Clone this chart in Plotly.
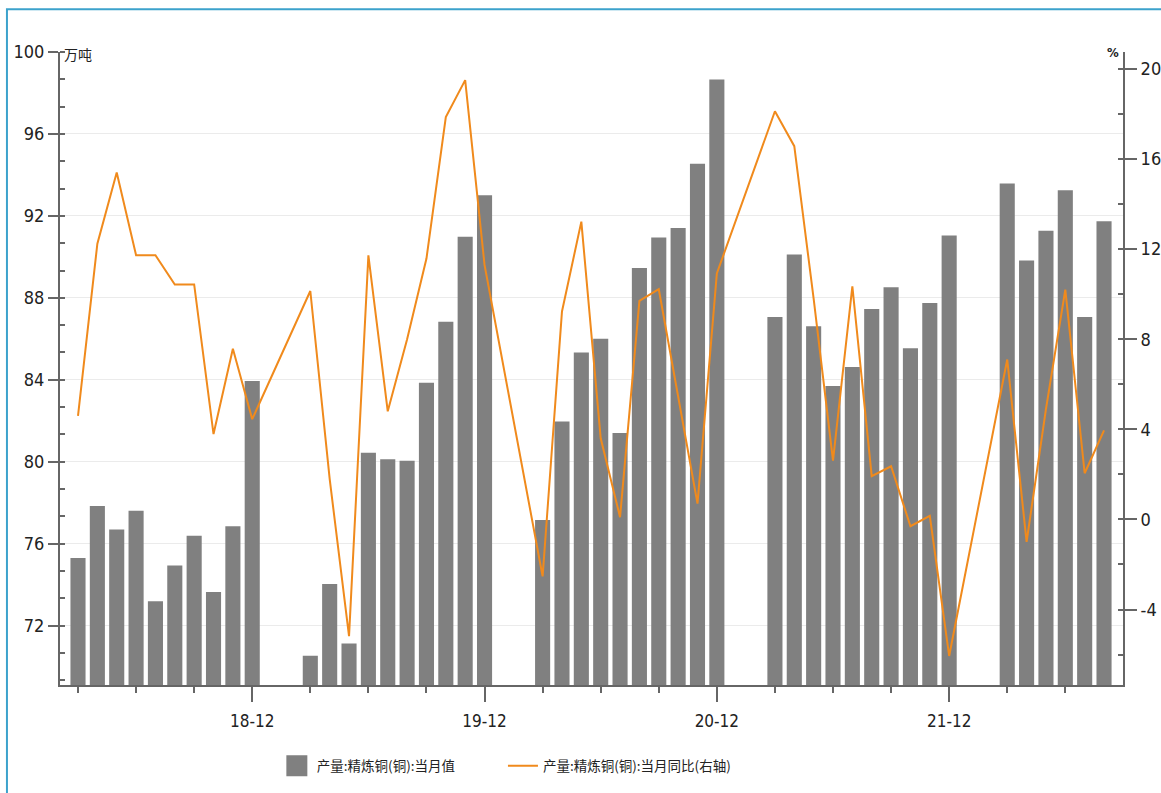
import plotly.graph_objects as go

# Monthly axis: Mar 2018 .. Aug 2022 (Jan/Feb are reported combined, so they stay empty)
months = [f"{y}-{m:02d}" for y in range(2018, 2023) for m in range(1, 13)]
months = months[months.index("2018-03"):months.index("2022-08") + 1]

# 产量:精炼铜(铜):当月值, 万吨
output_2018 = [75.30, 77.84, 76.69, 77.60, 73.19, 74.93, 76.39, 73.64, 76.85, 83.94]
output_2019 = [None, None, 70.53, 74.03, 71.12, 80.44, 80.12, 80.05, 83.86, 86.83, 90.98, 93.01]
output_2020 = [None, None, 77.16, 81.96, 85.33, 86.00, 81.40, 89.46, 90.94, 91.41, 94.55, 98.66]
output_2021 = [None, None, 87.06, 90.12, 86.61, 83.70, 84.62, 87.46, 88.52, 85.54, 87.75, 91.04]
output_2022 = [None, None, 93.58, 89.82, 91.28, 93.25, 87.06, 91.74]

# 产量:精炼铜(铜):当月同比, %
yoy_2018 = [4.60, 12.24, 15.40, 11.73, 11.73, 10.43, 10.43, 3.79, 7.58, 4.45]
yoy_2019 = [None, None, 10.14, 1.80, -5.18, 11.72, 4.80, 8.00, 11.58, 17.86, 19.50, 11.30]
yoy_2020 = [None, None, -2.53, 9.23, 13.22, 3.60, 0.10, 9.70, 10.22, 5.50, 0.70, 10.92]
yoy_2021 = [None, None, 18.12, 16.57, 9.80, 2.61, 10.35, 1.92, 2.36, -0.30, 0.16, -6.06]
yoy_2022 = [None, None, 7.10, -1.00, 4.90, 10.20, 2.05, 3.95]

output = output_2018 + output_2019 + output_2020 + output_2021 + output_2022
yoy = yoy_2018 + yoy_2019 + yoy_2020 + yoy_2021 + yoy_2022

tick_months = ["2018-12", "2019-12", "2020-12", "2021-12"]
tick_labels = ["18-12", "19-12", "20-12", "21-12"]
left_ticks = [72, 76, 80, 84, 88, 92, 96, 100]
right_ticks = [-4, 0, 4, 8, 12, 16, 20]

x = list(range(len(months)))
tick_idx = [months.index(m) for m in tick_months]

BAR_NAME = "产量:精炼铜(铜):当月值"
LINE_NAME = "产量:精炼铜(铜):当月同比(右轴)"
NARROW = "DejaVu Sans Condensed, Liberation Sans Narrow, sans-serif"
CJK = "Noto Sans CJK SC, sans-serif"
AXIS_COLOR = "#666666"
TEXT_COLOR = "#222222"
BAR_COLOR = "#808080"
LINE_COLOR = "#F08A1C"

fig = go.Figure()
fig.add_trace(go.Bar(
    x=x, y=output, name=BAR_NAME,
    marker=dict(color=BAR_COLOR, line=dict(width=0)),
    yaxis="y", legendgroup="bar", showlegend=False,
    customdata=months,
    hovertemplate="%{customdata}: %{y}<extra></extra>",
))
# larger square swatch for the bar series in the legend
fig.add_trace(go.Scatter(
    x=[None], y=[None], name=BAR_NAME, mode="markers",
    marker=dict(symbol="square", size=30, color=BAR_COLOR,
                line=dict(color=BAR_COLOR, width=5)),
    legendgroup="bar", legend="legend", hoverinfo="skip",
))
fig.add_trace(go.Scatter(
    x=x, y=yoy, name=LINE_NAME, mode="lines",
    line=dict(color=LINE_COLOR, width=2),
    connectgaps=True,
    yaxis="y2", legend="legend2",
    customdata=months,
    hovertemplate="%{customdata}: %{y}%<extra></extra>",
))

legend_common = dict(
    orientation="h", yanchor="middle", y=-0.128, xanchor="left",
    font=dict(family=CJK, size=13.5, color=TEXT_COLOR),
    bgcolor="rgba(0,0,0,0)",
)

fig.update_layout(
    width=1161, height=793,
    margin=dict(l=60, r=38, t=52, b=104),
    paper_bgcolor="white", plot_bgcolor="white",
    bargap=0.22,
    showlegend=True,
    legend=dict(x=0.204, **legend_common),
    legend2=dict(x=0.4167, **legend_common),
    xaxis=dict(
        range=[-0.93, 53.98], automargin=False,
        tickvals=tick_idx, ticktext=tick_labels,
        ticks="outside", ticklen=15, tickwidth=2, tickcolor=AXIS_COLOR,
        ticklabelstandoff=5,
        minor=dict(dtick=3, tick0=0, ticks="outside", ticklen=6, tickwidth=2,
                   tickcolor=AXIS_COLOR, showgrid=False),
        showline=True, linecolor=AXIS_COLOR, linewidth=2,
        showgrid=False, zeroline=False,
        tickfont=dict(family=NARROW, size=17, color=TEXT_COLOR),
    ),
    yaxis=dict(
        range=[69.1, 100], automargin=False,
        tickvals=left_ticks, ticktext=[str(v) for v in left_ticks],
        ticks="outside", ticklen=10, tickwidth=2, tickcolor=AXIS_COLOR,
        minor=dict(dtick=4 / 3, tick0=0, ticks="inside", ticklen=5, tickwidth=2,
                   tickcolor=AXIS_COLOR, showgrid=False),
        showline=True, linecolor=AXIS_COLOR, linewidth=2,
        showgrid=True, gridcolor="#EBEBEB", gridwidth=1, zeroline=False,
        tickfont=dict(family=NARROW, size=18, color=TEXT_COLOR),
    ),
    yaxis2=dict(
        range=[-7.35, 20.75], automargin=False,
        tickvals=right_ticks, ticktext=[str(v) for v in right_ticks],
        overlaying="y", side="right",
        ticks="outside", ticklen=12, tickwidth=2, tickcolor=AXIS_COLOR,
        minor=dict(dtick=2, tick0=0, ticks="inside", ticklen=5, tickwidth=2,
                   tickcolor=AXIS_COLOR, showgrid=False),
        showline=True, linecolor=AXIS_COLOR, linewidth=2,
        showgrid=False, zeroline=False,
        tickfont=dict(family=NARROW, size=18, color=TEXT_COLOR),
    ),
    annotations=[
        dict(text="万吨", xref="paper", yref="paper", x=0.002, y=0.997,
             xanchor="left", yanchor="middle", showarrow=False,
             font=dict(family=CJK, size=14, color=TEXT_COLOR)),
        dict(text="<b>%</b>", xref="paper", yref="paper", x=0.998, y=1.0,
             xanchor="right", yanchor="middle", showarrow=False,
             font=dict(family=NARROW, size=13, color=TEXT_COLOR)),
    ],
    shapes=[
        # thin blue frame around the whole panel
        dict(type="rect", xref="paper", yref="paper",
             x0=-0.0499, x1=1.06, y0=-0.2, y1=1.0675,
             line=dict(color="#3CA2CC", width=2), fillcolor="rgba(0,0,0,0)",
             layer="below"),
    ],
)

fig.write_html("out.html")
